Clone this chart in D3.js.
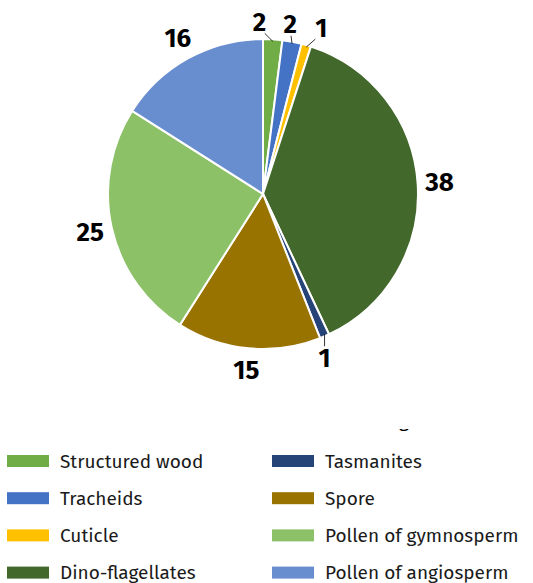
<!DOCTYPE html>
<html>
<head>
<meta charset="utf-8">
<script src="https://cdn.jsdelivr.net/npm/d3@7"></script>
<style>
  body { margin: 0; background: #fff; }
  text { font-family: "Fira Sans", "Noto Sans", sans-serif; }
</style>
</head>
<body>
<div id="chart-area"></div>
<script>
// categories and values
let categories = ["Structured wood", "Tracheids", "Cuticle", "Dino-flagellates",
  "Tasmanites", "Spore", "Pollen of gymnosperm", "Pollen of angiosperm"];
let values = [2, 2, 1, 38, 1, 15, 25, 16];
let colors = ["#70ad47", "#4472c4", "#ffc000", "#43682b",
  "#264478", "#997300", "#8cc168", "#698ed0"];

let svgW = 533;
let svgH = 583;

let cx = 263;
let cy = 194;
let radius = 155;

let data = categories.map((c, i) => ({ name: c, value: values[i], color: colors[i] }));

let svg = d3.select("#chart-area")
  .append("svg")
  .attr("width", svgW)
  .attr("height", svgH)

let pie = d3.pie()
  .sort(null)
  .value(d => d.value)

let arc = d3.arc()
  .innerRadius(0)
  .outerRadius(radius)

let arcs = pie(data);

let group = svg.append("g")
  .attr("transform", `translate(${cx},${cy})`)

group.selectAll("path")
  .data(arcs)
  .enter()
  .append("path")
  .attr("d", arc)
  .attr("fill", d => d.data.color)
  .attr("stroke", "#fff")
  .attr("stroke-width", 2)

const polar = (a, r) => [Math.sin(a) * r, -Math.cos(a) * r];
const mid = d => (d.startAngle + d.endAngle) / 2;

// label placement: big slices outside on the mid angle,
// small slices straight above/below their edge and spread apart
let labels = arcs.map(d => {
  let a = mid(d);
  let edge = polar(a, radius);
  if (d.data.value > 2) {
    let p = polar(a, radius + 22);
    return { d: d, x: p[0], y: p[1], small: false };
  }
  let up = Math.cos(a) > 0;
  return { d: d, x: edge[0], y: edge[1] + (up ? -17 : 22), small: true, edge: edge, up: up };
});

// spread the small labels that sit on the top
let topLabels = labels.filter(l => l.small && l.up);
let meanX = d3.mean(topLabels, l => l.x);
topLabels.forEach((l, i) => { l.x = meanX + (i - (topLabels.length - 1) / 2) * 31; });

group.selectAll("line.leader")
  .data(labels.filter(l => l.small))
  .enter()
  .append("line")
  .attr("class", "leader")
  .attr("x1", l => l.edge[0])
  .attr("y1", l => l.edge[1] + (l.up ? 2 : -2))
  .attr("x2", l => l.x + (l.edge[0] - l.x) * 0.4)
  .attr("y2", l => l.y + (l.up ? 11 : -12))
  .attr("stroke", "#000")
  .attr("stroke-width", 0.8)

group.selectAll("text.lbl")
  .data(labels)
  .enter()
  .append("text")
  .attr("class", "lbl")
  .attr("x", l => l.x)
  .attr("y", l => l.y)
  .attr("text-anchor", "middle")
  .attr("dominant-baseline", "central")
  .attr("font-size", 26)
  .attr("font-weight", "bold")
  .attr("fill", "#000")
  .text(l => l.d.data.value)

// clipped remnant of a caption behind the legend
svg.append("clipPath")
  .attr("id", "capclip")
  .append("rect")
  .attr("x", 380).attr("y", 429).attr("width", 60).attr("height", 20)

svg.append("text")
  .attr("clip-path", "url(#capclip)")
  .attr("x", 404)
  .attr("y", 427)
  .attr("text-anchor", "middle")
  .attr("font-size", 19)
  .attr("fill", "#000")
  .text("g")

// legend, two columns of four
let legend = svg.append("g")
  .attr("transform", "translate(7,461)")

let item = legend.selectAll("g")
  .data(data)
  .enter()
  .append("g")
  .attr("transform", (d, i) => `translate(${Math.floor(i / 4) * 265},${(i % 4) * 37.2})`)

item.append("rect")
  .attr("x", 0)
  .attr("y", -6)
  .attr("width", 42)
  .attr("height", 12)
  .attr("fill", d => d.color)

item.append("text")
  .attr("x", 53)
  .attr("y", 0)
  .attr("dominant-baseline", "central")
  .attr("font-size", 19)
  .attr("fill", "#1a1a1a")
  .text(d => d.name)
</script>
</body>
</html>
